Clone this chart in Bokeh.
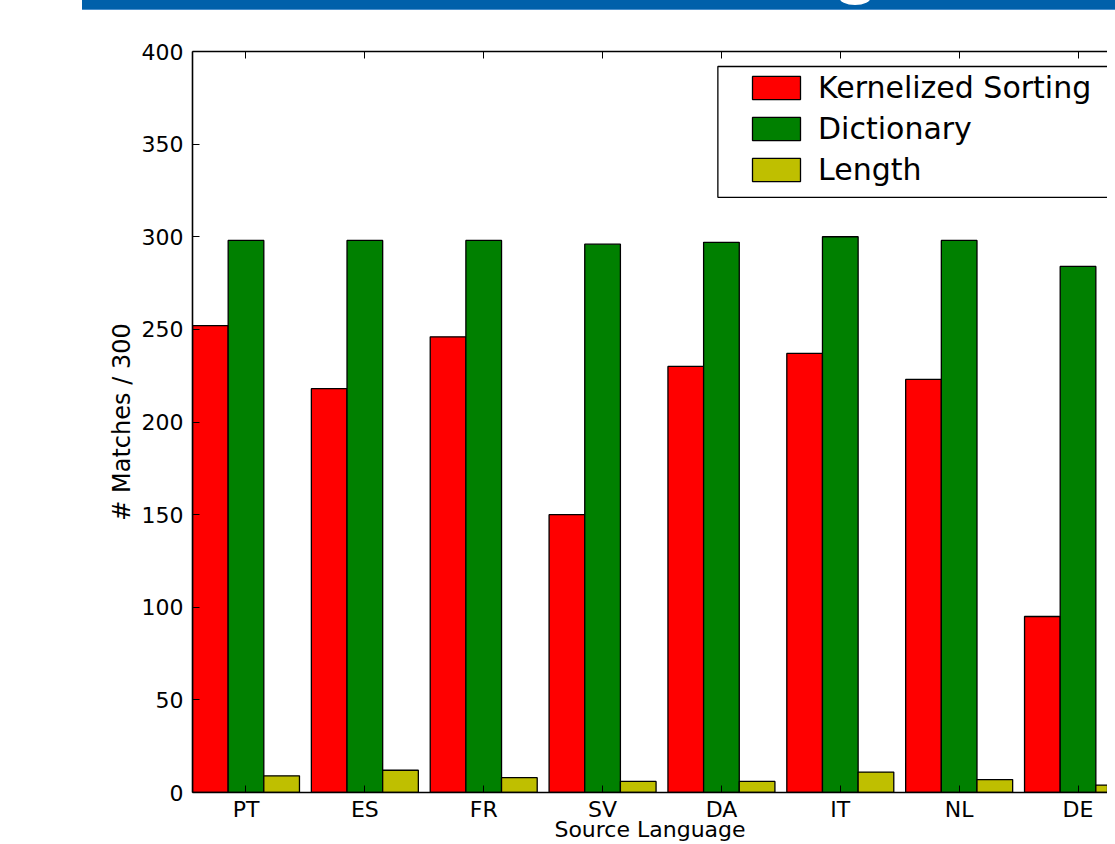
from bokeh.plotting import figure
from bokeh.models import (Range1d, FixedTicker, LinearAxis, Legend, LegendItem,
                          Div, ColumnDataSource, BoxAnnotation)
from bokeh.layouts import column
from bokeh.embed import file_html
from bokeh.resources import INLINE

languages = ["PT", "ES", "FR", "SV", "DA", "IT", "NL", "DE"]
kernelized_sorting = [252, 218, 246, 150, 230, 237, 223, 95]
dictionary = [298, 298, 298, 296, 297, 300, 298, 284]
length = [9, 12, 8, 6, 6, 11, 7, 4]
y_ticks = [0, 50, 100, 150, 200, 250, 300, 350, 400]

series = [("Kernelized Sorting", kernelized_sorting, "#FF0000"),
          ("Dictionary", dictionary, "#008000"),
          ("Length", length, "#BFBF00")]

FONT = "DejaVu Sans"
BAR_W = 0.3
idx = list(range(len(languages)))
tick_pos = [i + 1.5 * BAR_W for i in idx]

p = figure(width=1099, height=834, output_backend="svg", toolbar_location=None,
           x_range=Range1d(0, 7.698), y_range=Range1d(0, 400),
           min_border_left=184, min_border_right=0, min_border_top=41,
           min_border_bottom=51, margin=(0, 0, 0, 8))
p.outline_line_color = None
p.xgrid.visible = False
p.ygrid.visible = False
p.background_fill_color = "white"
p.border_fill_color = "white"

renderers = []
for k, (name, vals, color) in enumerate(series):
    src = ColumnDataSource(dict(x=[i + BAR_W * (k + 0.5) for i in idx], top=vals))
    r = p.vbar(x="x", top="top", width=BAR_W, bottom=0, source=src,
               fill_color=color, line_color="black", line_width=1.3)
    renderers.append((name, r))

# bottom axis
xa = p.xaxis[0]
xa.ticker = FixedTicker(ticks=tick_pos)
xa.major_label_overrides = {t: lab for t, lab in zip(tick_pos, languages)}
xa.minor_tick_line_color = None
xa.major_tick_in = 7
xa.major_tick_out = 0
xa.axis_line_width = 1.6
xa.axis_line_color = "black"
xa.major_tick_line_color = "black"
xa.major_label_text_font = FONT
xa.major_label_text_font_size = "22px"
xa.major_label_text_color = "black"
xa.major_label_standoff = 4
xa.axis_label = "Source Language"
xa.axis_label_text_font = FONT
xa.axis_label_text_font_size = "22px"
xa.axis_label_text_font_style = "normal"
xa.axis_label_text_color = "black"
xa.axis_label_standoff = -8

# left axis
ya = p.yaxis[0]
ya.ticker = FixedTicker(ticks=y_ticks)
ya.minor_tick_line_color = None
ya.major_tick_in = 7
ya.major_tick_out = 0
ya.axis_line_width = 1.6
ya.axis_line_color = "black"
ya.major_tick_line_color = "black"
ya.major_label_text_font = FONT
ya.major_label_text_font_size = "22px"
ya.major_label_text_color = "black"
ya.major_label_standoff = 9
ya.axis_label = "# Matches / 300"
ya.axis_label_text_font = FONT
ya.axis_label_text_font_size = "24px"
ya.axis_label_text_font_style = "normal"
ya.axis_label_text_color = "black"
ya.axis_label_standoff = 3

# top axis (ticks only)
top = LinearAxis(ticker=FixedTicker(ticks=tick_pos), major_tick_in=7, major_tick_out=0,
                 axis_line_width=1.6, axis_line_color="black",
                 major_tick_line_color="black", minor_tick_line_color=None,
                 major_label_text_font_size="0px", major_label_text_color=None)
p.add_layout(top, "above")

# legend frame
p.add_layout(BoxAnnotation(left=4.42, right=9, top=391.9, bottom=321.3,
                           fill_color="white", fill_alpha=1.0,
                           line_color="black", line_alpha=1.0, line_width=1.3))

legend = Legend(items=[LegendItem(label=n, renderers=[r]) for n, r in renderers],
                location=(554, 605), padding=0, margin=0, spacing=6,
                glyph_width=60, glyph_height=29, label_height=29,
                label_standoff=12, label_text_font=FONT,
                label_text_font_size="30px", label_text_color="black",
                border_line_color=None, background_fill_alpha=0)
p.add_layout(legend, "center")

banner = Div(text='<div style="position:absolute;left:757px;top:-11px;width:32px;'
                  'height:16px;border-radius:50%;background:#ffffff"></div>',
             width=1033, height=10, margin=(0, 0, 0, 82),
             styles={"background-color": "#0060AA", "border-bottom": "1px solid #4A8FCC",
                     "overflow": "hidden"})

layout = column(banner, p, spacing=0)

open("out.html", "w").write(file_html(layout, INLINE))
